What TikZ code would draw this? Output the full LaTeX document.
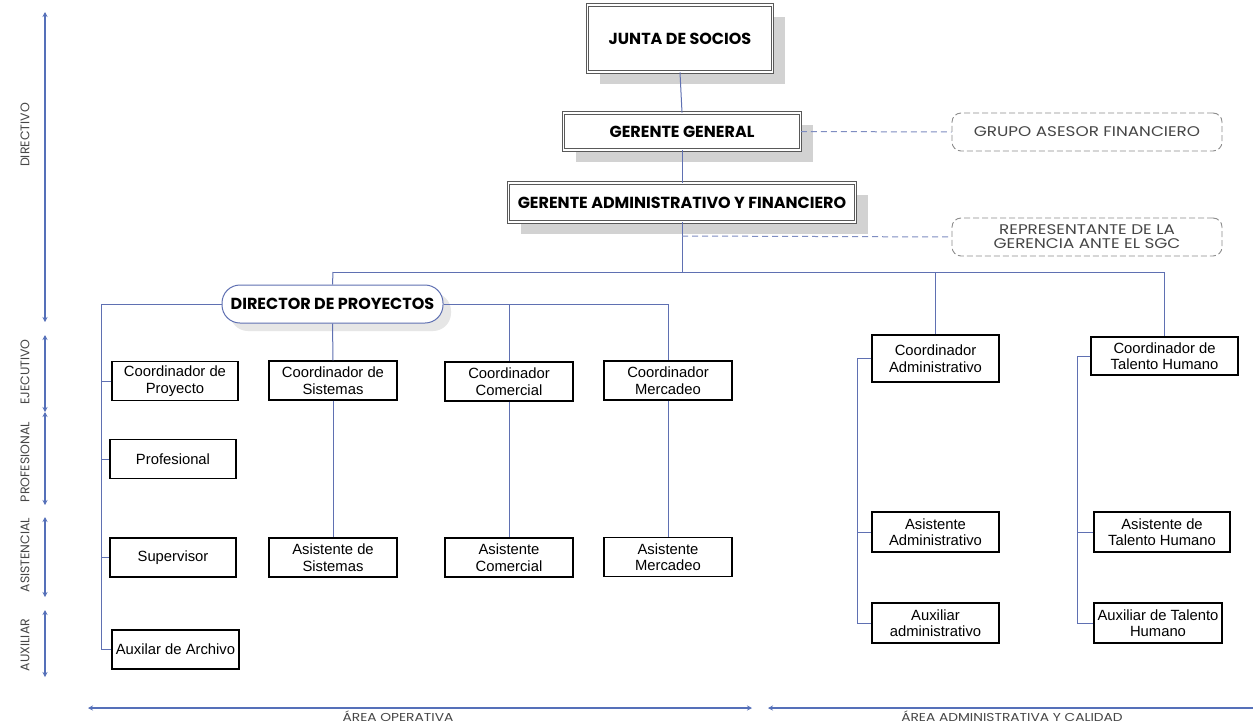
\documentclass[tikz,border=0pt]{standalone}
\usepackage{fontspec}
\usepackage{graphicx}
\setmainfont{Liberation Sans}
\newfontfamily\cg{Poppins}
\usetikzlibrary{arrows.meta,shadows}
\definecolor{conn}{RGB}{95,112,178}
\definecolor{axisc}{RGB}{85,112,185}
\definecolor{txtg}{RGB}{70,70,70}
\newcommand{\wide}[1]{\scalebox{1.2}[1]{#1}}
\tikzset{
  box/.style={draw=black, line width=1.1pt, fill=white, minimum height=39pt,
    inner sep=0pt, align=center, font=\fontsize{14.8}{16.5}\selectfont},
  topbox/.style={draw=black!65, double=white, double distance=1.8pt, line width=0.8pt,
    fill=white, inner sep=0pt,
    drop shadow={shadow xshift=12pt, shadow yshift=-12pt, fill=black!22, opacity=0.8},
    font=\cg\bfseries\fontsize{16}{18}\selectfont},
  dirbox/.style={draw=conn, line width=1pt, fill=white, rounded corners=18pt, inner sep=0pt,
    drop shadow={shadow xshift=8pt, shadow yshift=-8pt, fill=black!12, opacity=0.8},
    font=\cg\bfseries\fontsize{16}{18}\selectfont},
  dashbox/.style={draw=black!45, dashed, dash pattern=on 6pt off 3pt, line width=0.9pt,
    rounded corners=9pt, fill=white, inner sep=0pt, align=center, text=txtg,
    font=\cg\fontsize{14}{15}\selectfont},
  conline/.style={draw=conn, line width=1pt},
  dashcon/.style={draw=conn!80, dashed, dash pattern=on 6pt off 4pt, line width=1pt},
  axline/.style={draw=axisc, line width=1.5pt, {Stealth[length=5pt,width=5pt]}-{Stealth[length=5pt,width=5pt]}},
  axlab/.style={text=txtg, rotate=90, font=\cg\fontsize{12.5}{14}\selectfont},
  arealab/.style={text=txtg, anchor=north, inner sep=0.5pt, font=\cg\fontsize{11.5}{12}\selectfont},
}
\begin{document}
\begin{tikzpicture}[x=1pt,y=-1pt]
\useasboundingbox[fill=white] (0,0) rectangle (1253,726);

% ---- top level
\node[topbox, minimum width=185pt, minimum height=67pt] (junta) at (680,38.5) {JUNTA DE SOCIOS};
\node[topbox, minimum width=237pt, minimum height=37pt] (gg) at (682,131.5) {GERENTE GENERAL};
\node[topbox, minimum width=347pt, minimum height=39pt] (gaf) at (682,202.5) {GERENTE ADMINISTRATIVO Y FINANCIERO};
\node[dashbox, minimum width=270pt, minimum height=38pt] (grupo) at (1087,132) {\wide{GRUPO ASESOR FINANCIERO}};
\node[dashbox, minimum width=270pt, minimum height=38pt] (rep) at (1087,237) {\wide{REPRESENTANTE DE LA}\\[-1pt]\wide{GERENCIA ANTE EL SGC}};

% ---- director
\node[dirbox, minimum width=221pt, minimum height=38pt] (dir) at (332.5,304) {DIRECTOR DE PROYECTOS};

% ---- operative boxes
\node[box, minimum width=126pt] (cp) at (175,381) {Coordinador de\\Proyecto};
\node[box, minimum width=126pt] (prof) at (173,459) {Profesional};
\node[box, minimum width=126pt] (sup) at (173,557.5) {Supervisor};
\node[box, minimum width=127pt] (aux) at (175.5,649.5) {Auxilar de Archivo};
\node[box, minimum width=128pt] (cs) at (333,380.5) {Coordinador de\\Sistemas};
\node[box, minimum width=128pt] (as) at (333,557.5) {Asistente de\\Sistemas};
\node[box, minimum width=128pt] (cc) at (509,381.5) {Coordinador\\Comercial};
\node[box, minimum width=128pt] (ac) at (509,557.5) {Asistente\\Comercial};
\node[box, minimum width=128pt] (cm) at (668,380.5) {Coordinador\\Mercadeo};
\node[box, minimum width=128pt] (am) at (668,557) {Asistente\\Mercadeo};

% ---- administrative boxes
\node[box, minimum width=127pt, minimum height=47pt] (ca) at (935.5,358.5) {Coordinador\\Administrativo};
\node[box, minimum width=127pt, minimum height=40pt] (asa) at (935.5,532) {Asistente\\Administrativo};
\node[box, minimum width=127pt, minimum height=40pt] (auxa) at (935.5,623) {Auxiliar\\administrativo};
\node[box, minimum width=147pt, minimum height=38pt] (cth) at (1164.5,356) {Coordinador de\\Talento Humano};
\node[box, minimum width=136pt, minimum height=40pt] (ath) at (1162,532) {Asistente de\\Talento Humano};
\node[box, minimum width=128pt, minimum height=40pt] (auxth) at (1158,623) {Auxiliar de Talento\\Humano};

% ---- coordinates for connectors
\coordinate (hub) at (682,272);
\coordinate (hl) at (333,272);
\coordinate (hm) at (935.5,272);
\coordinate (hr) at (1164.5,272);
\coordinate (repj) at (682,236);
\coordinate (dl) at (101,304);
\coordinate (dlb) at (101,649.5);
\coordinate (dr) at (668,304);
\coordinate (dc) at (509,304);
\coordinate (al) at (857,358.5);
\coordinate (alb) at (857,623);
\coordinate (tl) at (1077,356);
\coordinate (tlb) at (1077,623);

% ---- connectors
\draw[conline] (junta.south) -- (gg.north);
\draw[conline] (gg.south) -- (gaf.north);
\draw[conline] (gaf.south) -- (hub);
\draw[conline] (hl) -- (hr);
\draw[conline] (hl) -- (dir.north);
\draw[conline] (hm) -- (ca.north);
\draw[conline] (hr) -- (cth.north);
\draw[dashcon] (gg.east) -- (grupo.west);
\draw[dashcon] (repj) -- (rep.west);

\draw[conline] (dir.east) -- (dr) -- (cm.north);
\draw[conline] (dc) -- (cc.north);
\draw[conline] (dir.south) -- (cs.north);
\draw[conline] (dir.west) -- (dl) -- (dlb) -- (aux.west);
\draw[conline] (cp.west -| dl) -- (cp.west);
\draw[conline] (prof.west -| dl) -- (prof.west);
\draw[conline] (sup.west -| dl) -- (sup.west);
\draw[conline] (cs.south) -- (as.north);
\draw[conline] (cc.south) -- (ac.north);
\draw[conline] (cm.south) -- (am.north);

\draw[conline] (ca.west) -- (al) -- (alb) -- (auxa.west);
\draw[conline] (asa.west -| al) -- (asa.west);
\draw[conline] (cth.west) -- (tl) -- (tlb) -- (auxth.west);
\draw[conline] (ath.west -| tl) -- (ath.west);

% ---- left axis
\coordinate (a0) at (45,12);   \coordinate (a1) at (45,322);
\coordinate (b0) at (45,335);  \coordinate (b1) at (45,412);
\coordinate (c0) at (45,412);  \coordinate (c1) at (45,505);
\coordinate (d0) at (45,517);  \coordinate (d1) at (45,597);
\coordinate (e0) at (45,610);  \coordinate (e1) at (45,677);
\draw[axline] (a0) -- (a1);
\draw[axline] (b0) -- (b1);
\draw[axline] (c0) -- (c1);
\draw[axline] (d0) -- (d1);
\draw[axline] (e0) -- (e1);
\node[axlab] (ldir) at (25,135) {DIRECTIVO};
\node[axlab] (leje) at (25,372) {EJECUTIVO};
\node[axlab] (lpro) at (25,462) {PROFESIONAL};
\node[axlab] (lasi) at (25,555) {ASISTENCIAL};
\node[axlab] (laux) at (25,645) {AUXILIAR};

% ---- bottom axis
\coordinate (f0) at (88,708);  \coordinate (f1) at (752,708);
\coordinate (g0) at (768,708); \coordinate (g1) at (1253,708);
\draw[axline] (f0) -- (f1);
\draw[draw=axisc, line width=1.5pt, {Stealth[length=5pt,width=5pt]}-] (g0) -- (g1);
\node[arealab] (aop) at (398,710.5) {\wide{ÁREA OPERATIVA}};
\node[arealab] (aad) at (1012,710.5) {\wide{ÁREA ADMINISTRATIVA Y CALIDAD}};
\end{tikzpicture}
\end{document}
